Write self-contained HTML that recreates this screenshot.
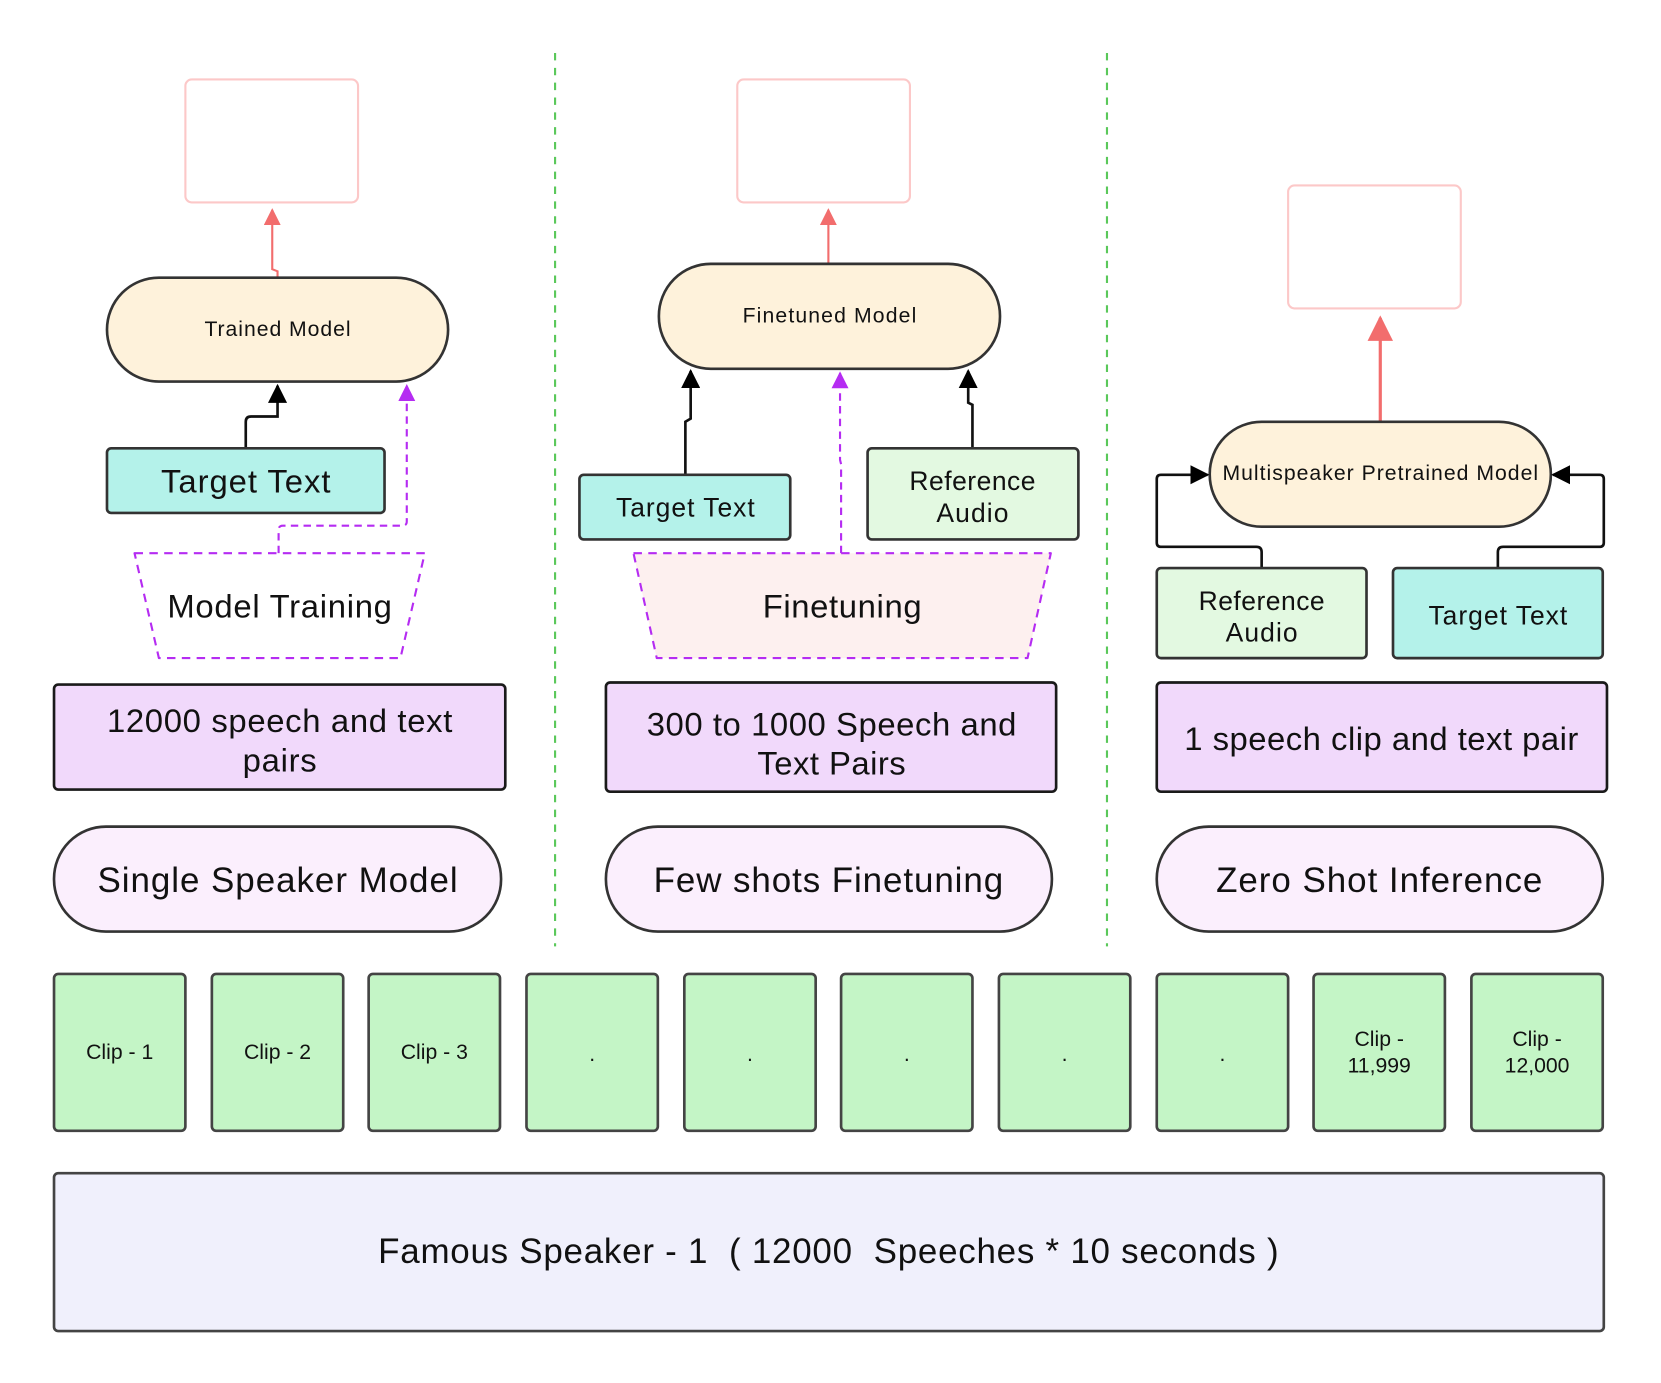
<!DOCTYPE html>
<html><head><meta charset="utf-8"><style>
html,body{margin:0;padding:0;background:#fff;}
svg{display:block;}
text{font-family:"Liberation Sans",sans-serif;fill:#111;text-anchor:middle;dominant-baseline:central;}
</style></head><body>
<svg width="1661" height="1383" viewBox="0 0 1568 1305" preserveAspectRatio="none" xmlns="http://www.w3.org/2000/svg">
<defs>
<marker id="ab" viewBox="0 0 10 10" refX="9" refY="5" markerWidth="18" markerHeight="18" markerUnits="userSpaceOnUse" orient="auto"><path d="M0,0L10,5L0,10z" fill="#000"/></marker>
<marker id="ar" viewBox="0 0 10 10" refX="9" refY="5" markerWidth="8" markerHeight="8" orient="auto"><path d="M0,0L10,5L0,10z" fill="#f26d6d"/></marker>
<marker id="ap" viewBox="0 0 10 10" refX="9" refY="5" markerWidth="8" markerHeight="8" orient="auto"><path d="M0,0L10,5L0,10z" fill="#b52cf2"/></marker>
</defs>
<!-- dividers -->
<line x1="524" y1="50" x2="524" y2="893" stroke="#5ac85a" stroke-width="2" stroke-dasharray="7,7"/>
<line x1="1045" y1="50" x2="1045" y2="893" stroke="#5ac85a" stroke-width="2" stroke-dasharray="7,7"/>
<!-- pink boxes -->
<rect x="175" y="75" width="163" height="116" rx="6" fill="#fff" stroke="#fcc8c8" stroke-width="2"/>
<rect x="696" y="75" width="163" height="116" rx="6" fill="#fff" stroke="#fcc8c8" stroke-width="2"/>
<rect x="1216" y="175" width="163" height="116" rx="6" fill="#fff" stroke="#fcc8c8" stroke-width="2"/>
<!-- red arrows -->
<path d="M262,262 L262,256 L257,254 L257,198" fill="none" stroke="#f26d6d" stroke-width="2" marker-end="url(#ar)"/>
<path d="M782,249 L782,198" fill="none" stroke="#f26d6d" stroke-width="2" marker-end="url(#ar)"/>
<path d="M1303,398 L1303,300" fill="none" stroke="#f26d6d" stroke-width="3" marker-end="url(#ar)"/>
<!-- model pills -->
<rect x="101" y="262" width="322" height="98" rx="49" fill="#fef2db" stroke="#333" stroke-width="2.5"/>
<text x="262" y="311" font-size="20" textLength="138">Trained Model</text>
<rect x="622" y="249" width="322" height="99" rx="49" fill="#fef2db" stroke="#333" stroke-width="2.5"/>
<text x="783" y="298" font-size="20" textLength="164">Finetuned Model</text>
<rect x="1142" y="398" width="322" height="99" rx="49" fill="#fef2db" stroke="#333" stroke-width="2.5"/>
<text x="1303" y="447" font-size="20" textLength="298">Multispeaker Pretrained Model</text>
<!-- col1 -->
<path d="M232,423 L232,398 Q232,393 237,393 L262,393 L262,364" fill="none" stroke="#111" stroke-width="2.5" marker-end="url(#ab)"/>
<path d="M263,522 L263,500 Q263,496 267,496 L380,496 Q384,496 384,492 L384,364" fill="none" stroke="#b52cf2" stroke-width="2" stroke-dasharray="7,5" marker-end="url(#ap)"/>
<rect x="101" y="423" width="262" height="61" rx="4" fill="#b4f2ea" stroke="#333" stroke-width="2.5"/>
<text x="232" y="454" font-size="31" textLength="160">Target Text</text>
<path d="M127,522 L401,522 L378,621 L150,621 Z" fill="#fff" stroke="#b52cf2" stroke-width="2" stroke-dasharray="8,6" stroke-linejoin="round"/>
<text x="264" y="572" font-size="31" textLength="212">Model Training</text>
<!-- col2 -->
<path d="M647,448 L647,398 L652,395 L652,350" fill="none" stroke="#111" stroke-width="2.5" marker-end="url(#ab)"/>
<path d="M918,423 L918,382 L914,380 L914,350" fill="none" stroke="#111" stroke-width="2.5" marker-end="url(#ab)"/>
<path d="M794,522 L794,438 L793,434 L793,352" fill="none" stroke="#b52cf2" stroke-width="2" stroke-dasharray="7,5" marker-end="url(#ap)"/>
<rect x="547" y="448" width="199" height="61" rx="4" fill="#b4f2ea" stroke="#333" stroke-width="2.5"/>
<text x="647" y="479" font-size="25" textLength="131">Target Text</text>
<rect x="819" y="423" width="199" height="86" rx="4" fill="#e3f9e1" stroke="#333" stroke-width="2.5"/>
<text x="918" y="454" font-size="25" textLength="119">Reference</text>
<text x="918" y="484" font-size="25" textLength="68">Audio</text>
<path d="M598,522 L992,522 L970,621 L620,621 Z" fill="#fdf0ef" stroke="#b52cf2" stroke-width="2" stroke-dasharray="8,6" stroke-linejoin="round"/>
<text x="795" y="572" font-size="31" textLength="150">Finetuning</text>
<!-- col3 -->
<path d="M1191,536 L1191,521 Q1191,516 1186,516 L1096,516 Q1092,516 1092,512 L1092,452 Q1092,448 1096,448 L1140,448" fill="none" stroke="#111" stroke-width="2.5" marker-end="url(#ab)"/>
<path d="M1414,536 L1414,521 Q1414,516 1419,516 L1510,516 Q1514,516 1514,512 L1514,452 Q1514,448 1510,448 L1466,448" fill="none" stroke="#111" stroke-width="2.5" marker-end="url(#ab)"/>
<rect x="1092" y="536" width="198" height="85" rx="4" fill="#e3f9e1" stroke="#333" stroke-width="2.5"/>
<text x="1191" y="567" font-size="25" textLength="119">Reference</text>
<text x="1191" y="597" font-size="25" textLength="68">Audio</text>
<rect x="1315" y="536" width="198" height="85" rx="4" fill="#b4f2ea" stroke="#333" stroke-width="2.5"/>
<text x="1414" y="581" font-size="25" textLength="131">Target Text</text>
<!-- purple boxes -->
<rect x="51" y="646" width="426" height="99" rx="4" fill="#f1d9fb" stroke="#1a1a1a" stroke-width="2.5"/>
<text x="264" y="680" font-size="31" textLength="326">12000 speech and text</text>
<text x="264" y="717" font-size="31" textLength="70">pairs</text>
<rect x="572" y="644" width="425" height="103" rx="4" fill="#f1d9fb" stroke="#1a1a1a" stroke-width="2.5"/>
<text x="785" y="683" font-size="31" textLength="349">300 to 1000 Speech and</text>
<text x="785" y="720" font-size="31" textLength="140">Text Pairs</text>
<rect x="1092" y="644" width="425" height="103" rx="4" fill="#f1d9fb" stroke="#1a1a1a" stroke-width="2.5"/>
<text x="1304" y="697" font-size="31" textLength="372">1 speech clip and text pair</text>
<!-- category pills -->
<rect x="51" y="780" width="422" height="99" rx="49" fill="#fbeffd" stroke="#333" stroke-width="2.5"/>
<text x="262" y="831" font-size="33" textLength="340">Single Speaker Model</text>
<rect x="572" y="780" width="421" height="99" rx="49" fill="#fbeffd" stroke="#333" stroke-width="2.5"/>
<text x="782" y="831" font-size="33" textLength="330">Few shots Finetuning</text>
<rect x="1092" y="780" width="421" height="99" rx="49" fill="#fbeffd" stroke="#333" stroke-width="2.5"/>
<text x="1302" y="831" font-size="33" textLength="308">Zero Shot Inference</text>
<!-- clips -->
<g stroke="#444" stroke-width="2.5" fill="#c4f5c6">
<rect x="51" y="919" width="124" height="148" rx="4"/>
<rect x="200" y="919" width="124" height="148" rx="4"/>
<rect x="348" y="919" width="124" height="148" rx="4"/>
<rect x="497" y="919" width="124" height="148" rx="4"/>
<rect x="646" y="919" width="124" height="148" rx="4"/>
<rect x="794" y="919" width="124" height="148" rx="4"/>
<rect x="943" y="919" width="124" height="148" rx="4"/>
<rect x="1092" y="919" width="124" height="148" rx="4"/>
<rect x="1240" y="919" width="124" height="148" rx="4"/>
<rect x="1389" y="919" width="124" height="148" rx="4"/>
</g>
<g font-size="20">
<text x="113" y="993">Clip - 1</text>
<text x="262" y="993">Clip - 2</text>
<text x="410" y="993">Clip - 3</text>
<text x="559" y="995">.</text>
<text x="708" y="995">.</text>
<text x="856" y="995">.</text>
<text x="1005" y="995">.</text>
<text x="1154" y="995">.</text>
<text x="1302" y="981">Clip -</text>
<text x="1302" y="1006">11,999</text>
<text x="1451" y="981">Clip -</text>
<text x="1451" y="1006">12,000</text>
</g>
<!-- bottom -->
<rect x="51" y="1107" width="1463" height="149" rx="4" fill="#f0f0fc" stroke="#444" stroke-width="2.5"/>
<text x="782" y="1181" font-size="33" xml:space="preserve" textLength="850">Famous Speaker - 1  ( 12000  Speeches * 10 seconds )</text>
</svg>
</body></html>
